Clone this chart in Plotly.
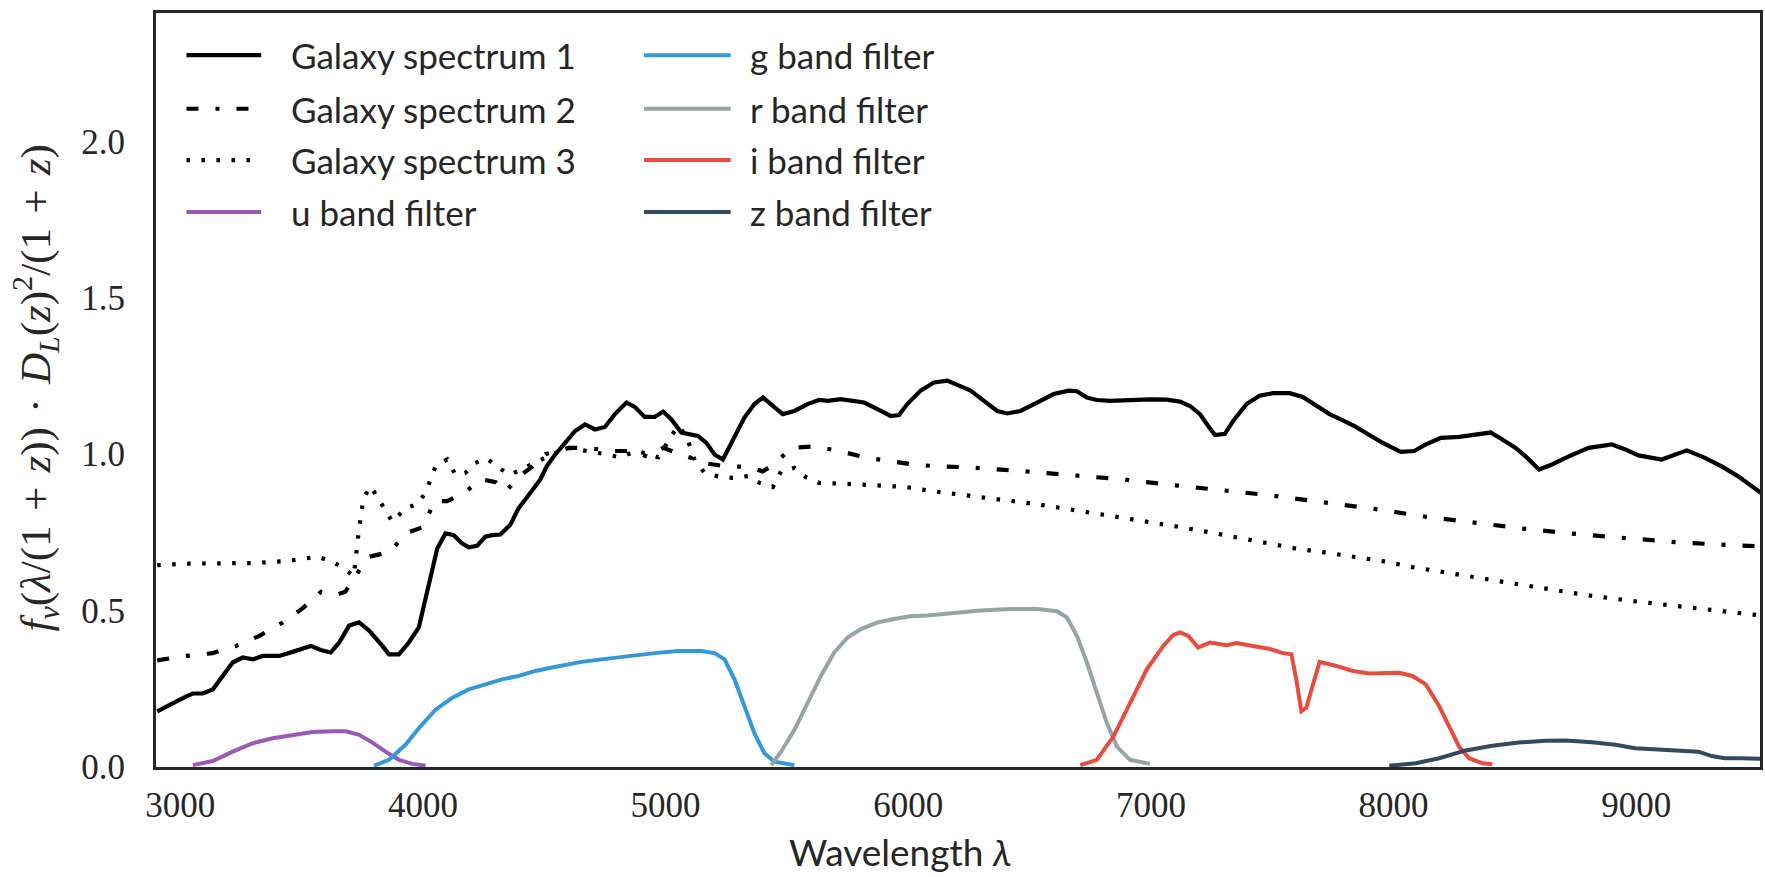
import plotly.graph_objects as go

# ---------------- data ----------------
wl_s1 = [2905, 2970, 3025, 3052, 3093, 3134, 3216, 3257, 3299, 3340, 3408, 3463, 3504, 3538,
         3579, 3620, 3655, 3696, 3737, 3778, 3833, 3860, 3901, 3942, 3983, 4024, 4059, 4093,
         4127, 4161, 4189, 4223, 4257, 4285, 4319, 4360, 4394, 4421, 4456, 4483, 4510, 4545,
         4586, 4627, 4668, 4709, 4750, 4791, 4839, 4873, 4914, 4955, 4990, 5024, 5065, 5099,
         5133, 5168, 5202, 5236, 5284, 5325, 5366, 5401, 5442, 5483, 5531, 5585, 5633, 5668,
         5722, 5777, 5818, 5873, 5928, 5962, 5996, 6051, 6106, 6161, 6215, 6257, 6312, 6367,
         6408, 6462, 6531, 6599, 6661, 6695, 6736, 6777, 6832, 6914, 6996, 7065, 7120, 7161,
         7202, 7236, 7264, 7305, 7339, 7394, 7448, 7503, 7572, 7626, 7681, 7736, 7791, 7845,
         7900, 7955, 8030, 8085, 8133, 8195, 8270, 8338, 8400, 8448, 8503, 8551, 8599, 8653,
         8722, 8804, 8900, 8955, 9009, 9105, 9160, 9208, 9283, 9352, 9420, 9475, 9516]
fx_s1 = [0.178, 0.205, 0.226, 0.235, 0.235, 0.248, 0.334, 0.350, 0.344, 0.355, 0.355, 0.368,
         0.377, 0.387, 0.374, 0.366, 0.398, 0.452, 0.462, 0.436, 0.387, 0.360, 0.360, 0.398,
         0.446, 0.580, 0.698, 0.747, 0.741, 0.715, 0.702, 0.707, 0.736, 0.741, 0.743, 0.774,
         0.827, 0.854, 0.892, 0.918, 0.961, 0.999, 1.036, 1.074, 1.095, 1.079, 1.087, 1.128,
         1.165, 1.151, 1.119, 1.119, 1.136, 1.111, 1.069, 1.063, 1.058, 1.036, 0.999, 0.983,
         1.058, 1.117, 1.160, 1.181, 1.154, 1.128, 1.138, 1.160, 1.173, 1.170, 1.176, 1.170,
         1.165, 1.144, 1.122, 1.125, 1.160, 1.203, 1.229, 1.235, 1.219, 1.203, 1.170, 1.138,
         1.130, 1.138, 1.165, 1.192, 1.203, 1.201, 1.181, 1.173, 1.170, 1.173, 1.175, 1.174,
         1.168, 1.154, 1.128, 1.090, 1.061, 1.065, 1.106, 1.160, 1.187, 1.195, 1.195, 1.183,
         1.154, 1.128, 1.108, 1.087, 1.061, 1.036, 1.007, 1.010, 1.031, 1.052, 1.055, 1.061,
         1.069, 1.047, 1.020, 0.988, 0.951, 0.967, 0.993, 1.020, 1.031, 1.015, 0.996, 0.983,
         0.999, 1.012, 0.988, 0.961, 0.929, 0.897, 0.875]

wl_s2 = [2905, 3025, 3134, 3230, 3326, 3422, 3504, 3580, 3640, 3680, 3730, 3778, 3867, 3928,
         4004, 4045, 4100, 4168, 4240, 4300, 4340, 4400, 4450, 4505, 4560, 4600, 4680, 4777,
         4870, 4930, 4990, 5060, 5100, 5170, 5255, 5340, 5400, 5452, 5517, 5613, 5715, 5820,
         5928, 6040, 6133, 6242, 6449, 6661, 6873, 7079, 7291, 7496, 7709, 7921, 8133, 8338,
         8544, 8763, 8968, 9174, 9393, 9516]
fx_s2 = [0.341, 0.355, 0.364, 0.387, 0.419, 0.462, 0.507, 0.560, 0.550, 0.560, 0.620, 0.672,
         0.688, 0.747, 0.768, 0.849, 0.850, 0.875, 0.920, 0.910, 0.880, 0.930, 0.960, 1.000,
         1.010, 1.020, 1.020, 1.010, 1.010, 0.990, 1.020, 1.000, 0.990, 0.970, 0.960, 0.960,
         0.945, 0.970, 1.020, 1.025, 1.010, 0.990, 0.977, 0.965, 0.961, 0.958, 0.947, 0.934,
         0.920, 0.902, 0.886, 0.868, 0.846, 0.825, 0.800, 0.779, 0.761, 0.744, 0.731, 0.718,
         0.709, 0.705]

wl_s3 = [2905, 3025, 3299, 3435, 3566, 3620, 3668, 3715, 3735, 3755, 3785, 3846, 3874, 3928,
         3976, 4010, 4052, 4100, 4134, 4175, 4216, 4264, 4312, 4360, 4415, 4476, 4531, 4599,
         4680, 4750, 4812, 4880, 4930, 4970, 5010, 5050, 5085, 5120, 5161, 5216, 5277, 5339,
         5387, 5442, 5476, 5531, 5579, 5633, 5750, 5873, 5989, 6106, 6222, 6284, 6408, 6531,
         6654, 6771, 6887, 7010, 7127, 7243, 7360, 7483, 7599, 7716, 7839, 7955, 8078, 8256,
         8434, 8612, 8790, 8968, 9146, 9324, 9516]
fx_s3 = [0.645, 0.650, 0.652, 0.658, 0.672, 0.658, 0.639, 0.610, 0.750, 0.860, 0.897, 0.816,
         0.784, 0.827, 0.840, 0.875, 0.961, 0.983, 0.934, 0.940, 0.972, 0.986, 0.956, 0.934,
         0.956, 0.977, 0.999, 1.020, 1.010, 1.000, 0.990, 1.010, 1.000, 0.990, 1.040, 1.090,
         1.060, 0.980, 0.940, 0.929, 0.924, 0.930, 0.908, 0.895, 0.945, 0.956, 0.926, 0.908,
         0.905, 0.900, 0.895, 0.881, 0.870, 0.865, 0.854, 0.840, 0.825, 0.811, 0.797, 0.782,
         0.766, 0.750, 0.733, 0.715, 0.698, 0.686, 0.672, 0.658, 0.639, 0.618, 0.594, 0.572,
         0.550, 0.532, 0.516, 0.500, 0.484]

wl_u = [3052, 3134, 3216, 3299, 3381, 3463, 3545, 3627, 3682, 3737, 3792, 3846, 3901, 3956, 4011]
tr_u = [0.006, 0.019, 0.049, 0.076, 0.092, 0.103, 0.112, 0.114, 0.114, 0.103, 0.078, 0.049,
        0.023, 0.010, 0.004]

wl_g = [3798, 3860, 3928, 3983, 4052, 4120, 4189, 4257, 4326, 4394, 4463, 4531, 4600, 4654,
        4736, 4846, 4955, 5051, 5147, 5202, 5243, 5284, 5325, 5366, 5407, 5448, 5531]
tr_g = [0.004, 0.023, 0.071, 0.124, 0.183, 0.221, 0.248, 0.264, 0.280, 0.291, 0.307, 0.318,
        0.328, 0.336, 0.344, 0.355, 0.364, 0.371, 0.371, 0.364, 0.344, 0.280, 0.194, 0.108,
        0.044, 0.017, 0.006]

wl_r = [5435, 5476, 5531, 5585, 5640, 5695, 5750, 5805, 5873, 5941, 6010, 6078, 6147, 6215,
        6298, 6339, 6421, 6531, 6613, 6654, 6695, 6736, 6777, 6818, 6860, 6914, 6996]
tr_r = [0.006, 0.049, 0.119, 0.205, 0.291, 0.366, 0.414, 0.441, 0.462, 0.473, 0.482, 0.484,
        0.489, 0.497, 0.500, 0.502, 0.505, 0.505, 0.498, 0.478, 0.419, 0.334, 0.237, 0.141,
        0.065, 0.023, 0.010]

wl_i = [6709, 6777, 6846, 6914, 6983, 7051, 7092, 7120, 7154, 7195, 7243, 7312, 7353, 7421,
        7490, 7544, 7579, 7599, 7620, 7640, 7695, 7764, 7832, 7900, 7960, 8023, 8078, 8133,
        8188, 8229, 8270, 8311, 8366, 8407]
tr_i = [0.006, 0.023, 0.098, 0.205, 0.312, 0.387, 0.422, 0.430, 0.419, 0.382, 0.398, 0.389,
        0.396, 0.387, 0.377, 0.364, 0.360, 0.280, 0.178, 0.189, 0.336, 0.323, 0.307, 0.299,
        0.299, 0.301, 0.291, 0.264, 0.194, 0.130, 0.065, 0.028, 0.012, 0.009]

wl_z = [7982, 8092, 8188, 8297, 8407, 8516, 8626, 8708, 8818, 8914, 8996, 9091, 9187, 9256,
        9311, 9365, 9434, 9516]
tr_z = [0.004, 0.012, 0.028, 0.053, 0.068, 0.078, 0.084, 0.085, 0.079, 0.071, 0.060, 0.055,
        0.053, 0.049, 0.035, 0.028, 0.028, 0.026]

x_ticks = [3000, 4000, 5000, 6000, 7000, 8000, 9000]
y_ticks = [0.0, 0.5, 1.0, 1.5, 2.0]
y_tick_text = ["0.0", "0.5", "1.0", "1.5", "2.0"]

names_col1 = ["Galaxy spectrum 1", "Galaxy spectrum 2", "Galaxy spectrum 3", "u band filter"]
names_col2 = ["g band filter", "r band filter", "i band filter", "z band filter"]

x_title = "Wavelength <i>λ</i>"
y_title = ("<i>f</i><sub><i>ν</i></sub>(<i>λ</i>/(1\u2004+\u2004<i>z</i>))\u2004·\u2004"
           "<i>D</i><sub><i>L</i></sub>(<i>z</i>)<sup>2</sup>/(1\u2004+\u2004<i>z</i>)")

# ---------------- styles ----------------
DASHDOT = "12px,17px,4px,17px"
DOT = "3.5px,11.5px"
INK = "#262626"
styles = [
    ("Galaxy spectrum 1", "black", "solid", 4.2),
    ("Galaxy spectrum 2", "black", DASHDOT, 4.2),
    ("Galaxy spectrum 3", "black", DOT, 4.2),
    ("u band filter", "#9b59b6", "solid", 4.0),
    ("g band filter", "#3498db", "solid", 4.0),
    ("r band filter", "#95a5a6", "solid", 4.0),
    ("i band filter", "#e74c3c", "solid", 4.0),
    ("z band filter", "#34495e", "solid", 4.0),
]
series = [(wl_s1, fx_s1), (wl_s2, fx_s2), (wl_s3, fx_s3), (wl_u, tr_u),
          (wl_g, tr_g), (wl_r, tr_r), (wl_i, tr_i), (wl_z, tr_z)]

fig = go.Figure()
for (name, color, dash, lw), (xs, ys) in zip(styles, series):
    fig.add_trace(go.Scatter(x=xs, y=ys, mode="lines", name=name, showlegend=False,
                             line=dict(color=color, width=lw, dash=dash)))

# ---------------- manual two-column legend ----------------
style_map = {n: (c, d, w) for n, c, d, w in styles}
shapes = []
annotations = []
row_y = [0.944, 0.873, 0.805, 0.736]
cols = [(names_col1, 0.0190, 0.0656, 0.0828), (names_col2, 0.3042, 0.3583, 0.3688)]
for names, x0, x1, xt in cols:
    for name, yy in zip(names, row_y):
        c, d, w = style_map[name]
        shapes.append(dict(type="line", xref="paper", yref="paper", x0=x0, x1=x1, y0=yy, y1=yy,
                           line=dict(color=c, width=w, dash=d)))
        annotations.append(dict(xref="paper", yref="paper", x=xt, y=yy, text=name,
                                showarrow=False, xanchor="left", yanchor="middle",
                                font=dict(family="Lato", size=35, color=INK)))

# axis titles
annotations.append(dict(xref="paper", yref="paper", x=0.464, y=-0.1127, text=x_title,
                        showarrow=False, xanchor="center", yanchor="middle",
                        font=dict(family="Lato", size=37, color=INK)))
annotations.append(dict(xref="paper", yref="paper", x=-0.075, y=0.503, text=y_title,
                        textangle=-90, showarrow=False, xanchor="center", yanchor="middle",
                        font=dict(family="Liberation Serif", size=43, color=INK)))

fig.update_layout(
    width=1765, height=877,
    margin=dict(l=156, r=2, t=13, b=110),
    paper_bgcolor="white", plot_bgcolor="white",
    shapes=shapes, annotations=annotations,
    showlegend=False,
)
fig.update_xaxes(
    range=[2900, 9510], tickvals=x_ticks, ticks="", showgrid=False, zeroline=False,
    showline=True, mirror=True, linecolor=INK, linewidth=3,
    tickfont=dict(family="Liberation Serif", size=35, color=INK), ticklabelstandoff=5,
)
fig.update_yaxes(
    range=[0, 2.41], tickvals=y_ticks, ticktext=y_tick_text, ticks="", showgrid=False,
    zeroline=False, showline=True, mirror=True, linecolor=INK, linewidth=3,
    tickfont=dict(family="Liberation Serif", size=35, color=INK), ticklabelstandoff=21,
)

fig.write_html("out.html")
